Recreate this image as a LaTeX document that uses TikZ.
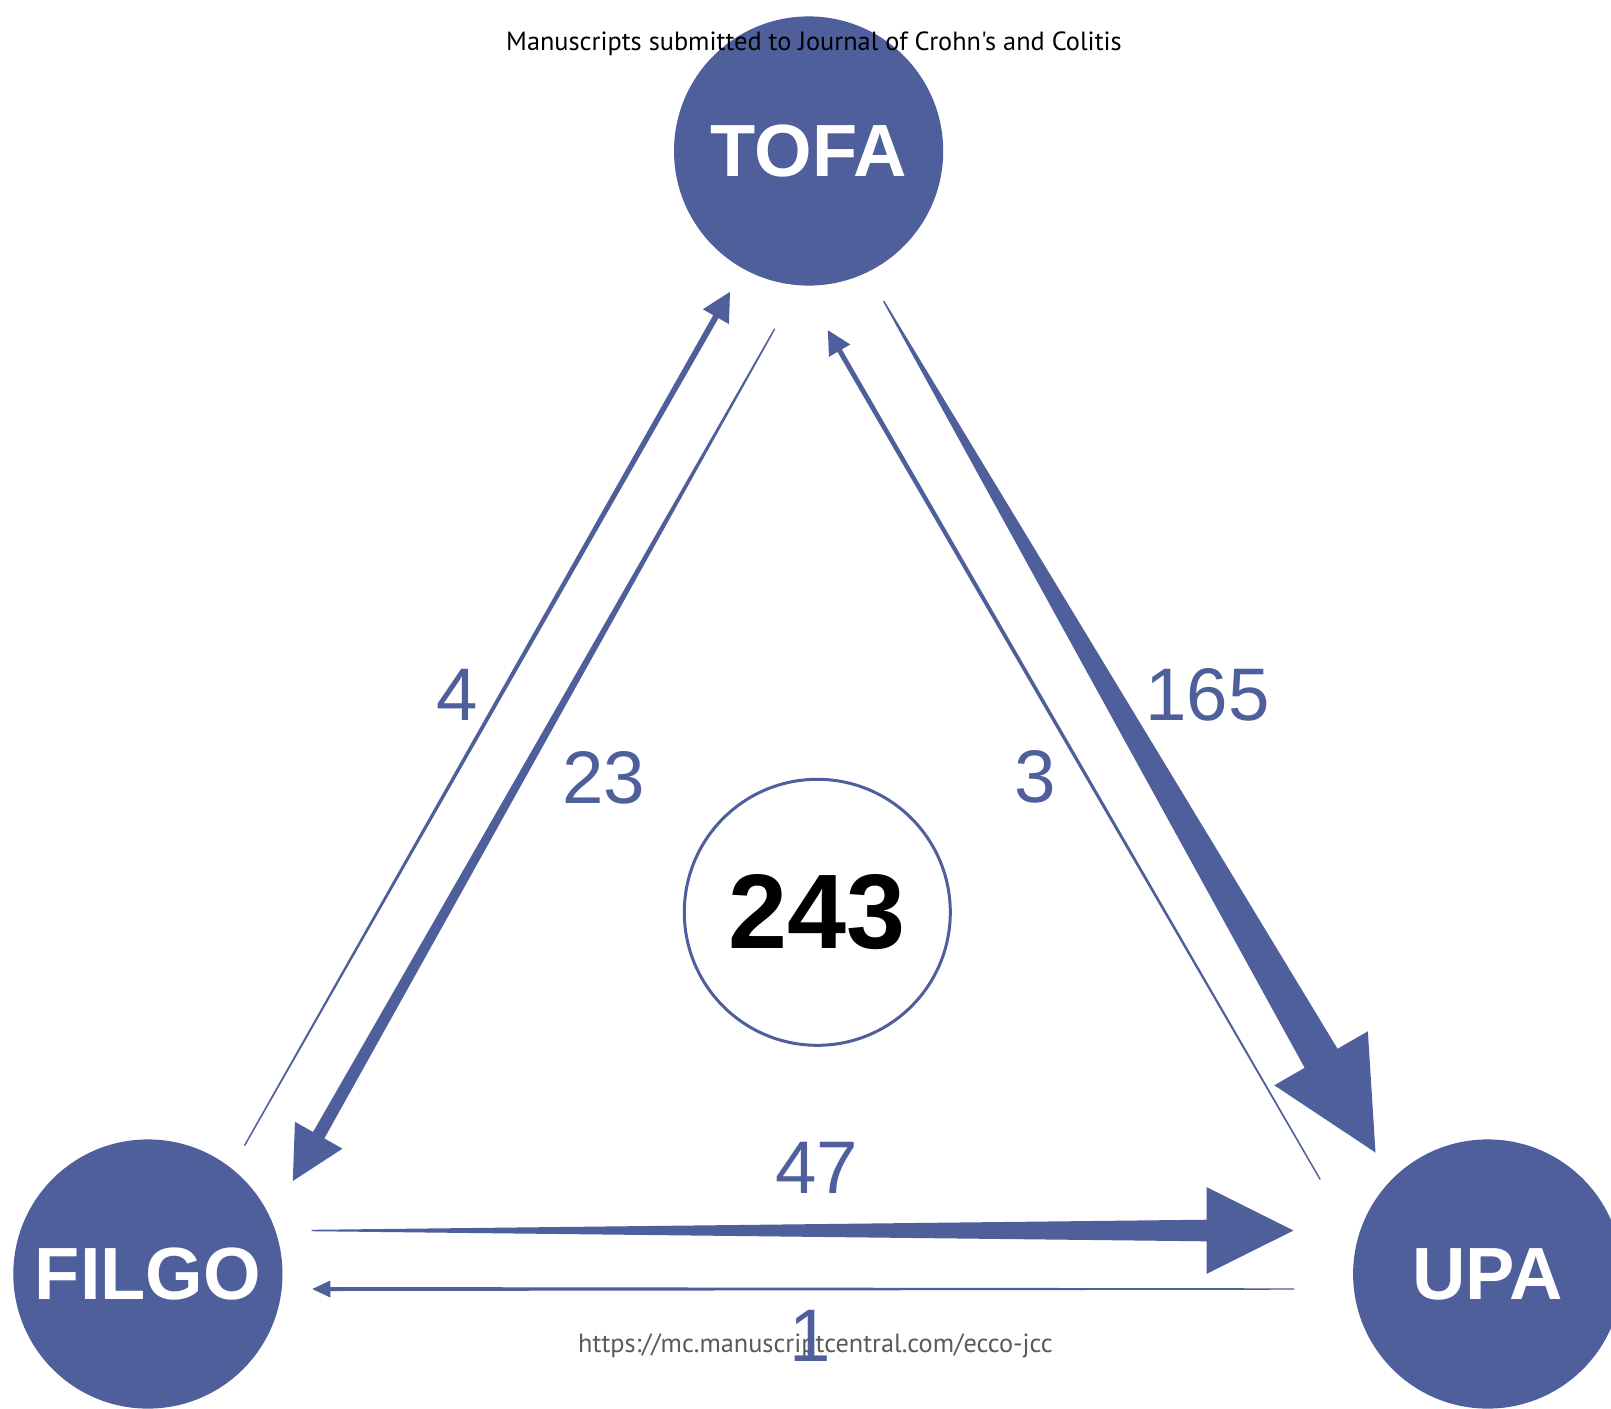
\documentclass[tikz,border=0pt]{standalone}
\usepackage{fontspec}
\setmainfont{Liberation Sans}
\newfontfamily\myriad{PT Sans}
\usetikzlibrary{calc}
\definecolor{jccblue}{RGB}{79,95,155}
\definecolor{urlgray}{RGB}{90,90,90}
\tikzset{
  drugnode/.style={circle, fill=jccblue, minimum size=269.2pt, inner sep=0pt,
    text=white, font=\bfseries\fontsize{74}{74}\selectfont},
  totalnode/.style={circle, draw=jccblue, line width=3pt, fill=white, minimum size=266pt,
    inner sep=0pt, text=black, font=\bfseries\fontsize{106}{106}\selectfont},
  countlabel/.style={inner sep=0pt, text=jccblue, font=\fontsize{74.5}{74.5}\selectfont},
  smalltext/.style={inner sep=0pt, font=\myriad\fontsize{26.3}{26.3}\selectfont},
  taper/.style={fill=jccblue}
}
% #1 id, #2 start, #3 tip, #4 half shaft width, #5 head length, #6 head half width
\newcommand\taparrow[6]{%
  \coordinate (hb#1) at ($(#3)!#5!(#2)$);
  \fill[taper] ($(#2)!0.7pt!90:(#3)$) -- ($(hb#1)!#4!90:(#3)$) -- ($(hb#1)!#6!90:(#3)$)
    -- (#3) -- ($(hb#1)!#6!-90:(#3)$) -- ($(hb#1)!#4!-90:(#3)$) -- ($(#2)!0.7pt!-90:(#3)$) -- cycle;
}
\begin{document}
\begin{tikzpicture}[x=1pt,y=-1pt]
\clip (0,0) rectangle (1611,1408);
\fill[white] (0,0) rectangle (1611,1408);
% main nodes
\node[drugnode] (tofa) at (808.6,151) {TOFA};
\node[drugnode] (filgo) at (147.9,1274) {FILGO};
\node[drugnode] (upa) at (1487.7,1274) {UPA};
\node[totalnode] (total) at (817.3,912.3) {243};
% arrow end points
\coordinate (s4) at (244.5,1145.6);  \coordinate (t4) at (730,291.8);
\coordinate (s23) at (774.7,328.8);  \coordinate (t23) at (292.8,1181);
\coordinate (s165) at (883.6,301);   \coordinate (t165) at (1375.5,1152.5);
\coordinate (s3) at (1320.2,1179.5); \coordinate (t3) at (827.8,330.2);
\coordinate (s47) at (311.5,1230.5); \coordinate (t47) at (1293.5,1230.5);
\coordinate (s1) at (1294,1289);     \coordinate (t1) at (312.3,1289);
\taparrow{4}{s4}{t4}{3pt}{28.6pt}{15pt}
\taparrow{23}{s23}{t23}{6.5pt}{52.6pt}{27.3pt}
\taparrow{165}{s165}{t165}{19pt}{108.8pt}{54pt}
\taparrow{3}{s3}{t3}{2.5pt}{23.6pt}{12.3pt}
\taparrow{47}{s47}{t47}{10.8pt}{86.8pt}{43.3pt}
\taparrow{1}{s1}{t1}{2pt}{18pt}{8.5pt}
% count labels
\node[countlabel] (l4) at (457,695) {4};
\node[countlabel] (l23) at (604,777.5) {23};
\node[countlabel] (l165) at (1207.5,695) {165};
\node[countlabel] (l3) at (1035,776.7) {3};
\node[countlabel] (l47) at (816.7,1167.5) {47};
% url and title
\node[smalltext, text=urlgray, anchor=base] (url) at (815.5,1352) {https://mc.manuscriptcentral.com/ecco-jcc};
\node[countlabel] (l1) at (810.5,1336) {1};
\node[smalltext, text=black, anchor=base] (title) at (814,50.3) {Manuscripts submitted to Journal of Crohn's and Colitis};
\end{tikzpicture}
\end{document}
